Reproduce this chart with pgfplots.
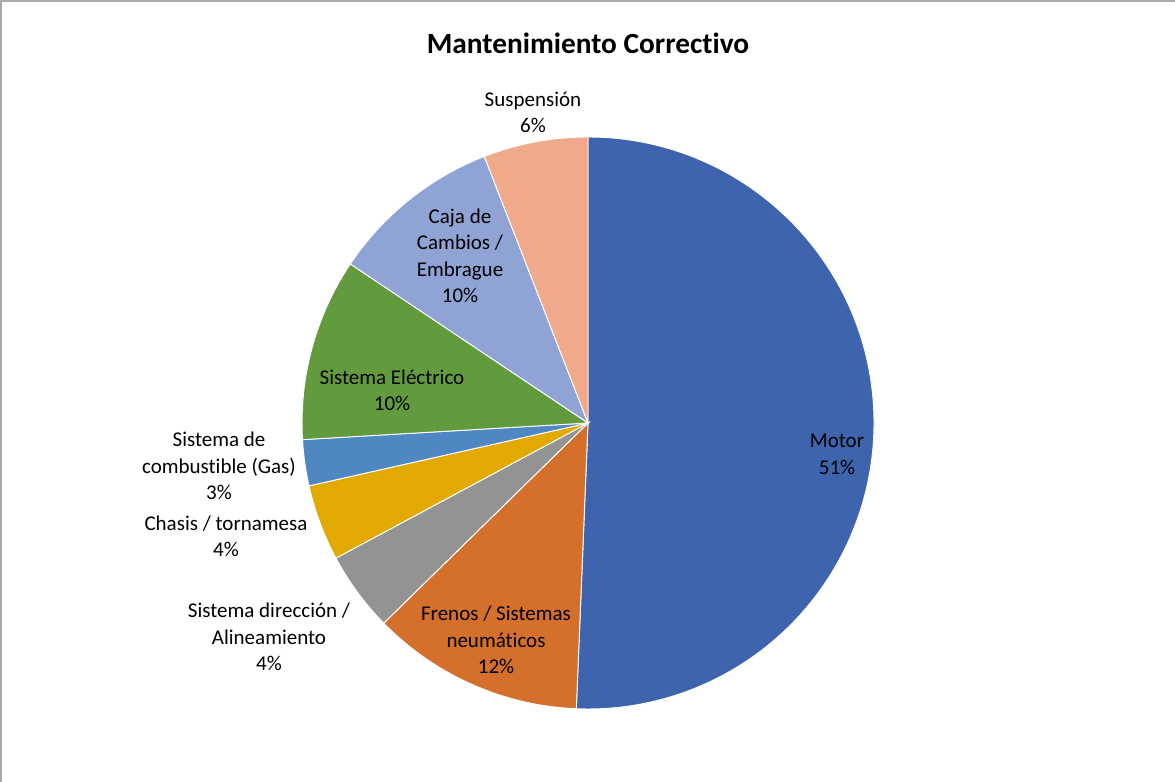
\documentclass[border=0pt]{standalone}
\usepackage{pgfplots}
\usepackage{pgfplotstable}
\pgfplotsset{compat=1.18}
\usepackage{fontspec}
\setmainfont{Carlito}[Ligatures={NoCommon}]

\definecolor{cMotor}{HTML}{3D64AD}
\definecolor{cFrenos}{HTML}{D46F2C}
\definecolor{cDir}{HTML}{939393}
\definecolor{cChasis}{HTML}{E2A900}
\definecolor{cGas}{HTML}{4E87C1}
\definecolor{cElec}{HTML}{629B3E}
\definecolor{cCaja}{HTML}{8FA3D5}
\definecolor{cSusp}{HTML}{F0A98A}

% shares (percent), clockwise from 12 o'clock
\pgfplotstableread{
category value
Motor 50.6
Frenos 12.0
Direccion 4.5
Chasis 4.3
Gas 2.6
Electrico 10.3
Caja 9.7
Suspension 5.9
}\piedata

\pgfplotstablegetrowsof{\piedata}
\pgfmathtruncatemacro{\nrows}{\pgfplotsretval-1}
\gdef\total{0}
\foreach \i in {0,...,\nrows}{%
  \pgfplotstablegetelem{\i}{value}\of\piedata
  \pgfmathsetmacro\tmp{\total+\pgfplotsretval}%
  \xdef\total{\tmp}}
\pgfmathsetmacro\degper{360/\total}
\gdef\cum{0}
\foreach \i in {0,...,\nrows}{%
  \pgfplotstablegetelem{\i}{value}\of\piedata
  \pgfmathsetmacro\sa{90-\degper*\cum}%
  \pgfmathsetmacro\nc{\cum+\pgfplotsretval}%
  \pgfmathsetmacro\ea{90-\degper*\nc}%
  \expandafter\xdef\csname pieS\i\endcsname{\sa}%
  \expandafter\xdef\csname pieE\i\endcsname{\ea}%
  \xdef\cum{\nc}}

\newcommand\slice[2]{%
  \fill[#2, draw=white, line width=0.7pt] (axis cs:588,359) -- ++(\csname pieS#1\endcsname:214.5pt)
    arc[start angle=\csname pieS#1\endcsname, end angle=\csname pieE#1\endcsname, radius=214.5pt] -- cycle;}

\tikzset{lbl/.style={font=\fontsize{15.75}{19.9}\selectfont, align=center, text=black, inner sep=0pt}}

\begin{document}
\begin{tikzpicture}
\useasboundingbox (0,0) rectangle (881.25pt,586.5pt);
\begin{axis}[at={(0,0)}, anchor=south west, width=881.25pt, height=586.5pt,
  scale only axis, xmin=0, xmax=1175, ymin=0, ymax=782, axis lines=none, clip=false]
\slice{0}{cMotor}
\slice{1}{cFrenos}
\slice{2}{cDir}
\slice{3}{cChasis}
\slice{4}{cGas}
\slice{5}{cElec}
\slice{6}{cCaja}
\slice{7}{cSusp}
\draw[black!33, line width=1.5pt] (axis cs:1.5,0) -- (axis cs:1.5,780.5) -- (axis cs:1175,780.5);
\node[lbl, font=\fontsize{22}{26}\selectfont\bfseries] at (axis cs:588,739) {Mantenimiento Correctivo};
\node[lbl] at (axis cs:533,669.5) {Suspensión\\6\%};
\node[lbl] at (axis cs:460,526) {Caja de\\Cambios /\\Embrague\\10\%};
\node[lbl] at (axis cs:392,391.5) {Sistema Eléctrico\\10\%};
\node[lbl] at (axis cs:219,316) {Sistema de\\combustible (Gas)\\3\%};
\node[lbl] at (axis cs:226,245.5) {Chasis / tornamesa\\4\%};
\node[lbl] at (axis cs:269,145) {Sistema dirección /\\Alineamiento\\4\%};
\node[lbl] at (axis cs:496,142) {Frenos / Sistemas\\neumáticos\\12\%};
\node[lbl] at (axis cs:837,327.5) {Motor\\51\%};
\end{axis}
\end{tikzpicture}
\end{document}
